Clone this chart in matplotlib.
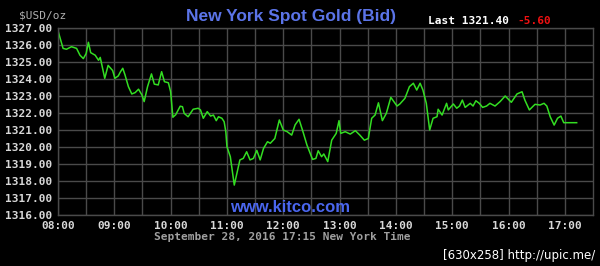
import matplotlib
matplotlib.use("Agg")
import matplotlib.pyplot as plt

# время (часы, Нью-Йорк) и цена золота, USD/oz
hours = [
    8.00, 8.09, 8.15, 8.24, 8.33, 8.39, 8.45, 8.50, 8.54, 8.58, 8.66, 8.72, 8.75,
    8.83, 8.89, 8.97, 9.01, 9.07, 9.11, 9.15, 9.19, 9.25, 9.31, 9.37, 9.43, 9.49,
    9.53, 9.59, 9.66, 9.71, 9.78, 9.84, 9.89, 9.96, 10.00, 10.04, 10.09, 10.17,
    10.21, 10.24, 10.31, 10.40, 10.49, 10.53, 10.58, 10.65, 10.71, 10.76, 10.81,
    10.85, 10.91, 10.95, 10.98, 11.00, 11.06, 11.13, 11.17, 11.23, 11.29, 11.35,
    11.41, 11.47, 11.53, 11.59, 11.65, 11.72, 11.77, 11.85, 11.93, 12.00, 12.07,
    12.15, 12.21, 12.28, 12.35, 12.42, 12.48, 12.52, 12.58, 12.62, 12.68, 12.72,
    12.79, 12.86, 12.94, 12.99, 13.02, 13.10, 13.19, 13.28, 13.36, 13.44, 13.51,
    13.57, 13.63, 13.69, 13.76, 13.83, 13.91, 14.02, 14.07, 14.16, 14.24, 14.31,
    14.37, 14.43, 14.48, 14.54, 14.60, 14.66, 14.73, 14.75, 14.82, 14.90, 14.93,
    15.02, 15.08, 15.13, 15.18, 15.23, 15.32, 15.37, 15.42, 15.48, 15.54, 15.61,
    15.67, 15.76, 15.85, 15.94, 16.05, 16.15, 16.24, 16.29, 16.37, 16.47, 16.56,
    16.63, 16.68, 16.74, 16.81, 16.87, 16.93, 16.98, 17.21,
]
prices = [
    1326.84, 1325.80, 1325.75, 1325.90, 1325.80, 1325.40, 1325.20, 1325.50,
    1326.16, 1325.55, 1325.40, 1325.10, 1325.27, 1324.04, 1324.80, 1324.50,
    1324.04, 1324.18, 1324.43, 1324.63, 1324.24, 1323.55, 1323.12, 1323.20,
    1323.40, 1323.06, 1322.67, 1323.55, 1324.30, 1323.70, 1323.65, 1324.43,
    1323.84, 1323.78, 1323.25, 1321.75, 1321.90, 1322.40, 1322.37, 1321.98,
    1321.78, 1322.22, 1322.28, 1322.18, 1321.69, 1322.08, 1321.82, 1321.88,
    1321.55, 1321.78, 1321.69, 1321.49, 1320.90, 1320.02, 1319.43, 1317.76,
    1318.35, 1319.24, 1319.33, 1319.72, 1319.24, 1319.33, 1319.80, 1319.24,
    1319.92, 1320.31, 1320.22, 1320.50, 1321.59, 1321.00, 1320.90, 1320.70,
    1321.30, 1321.63, 1320.90, 1320.12, 1319.60, 1319.27, 1319.33, 1319.78,
    1319.43, 1319.59, 1319.14, 1320.40, 1320.80, 1321.55, 1320.80, 1320.90,
    1320.76, 1320.96, 1320.70, 1320.40, 1320.50, 1321.69, 1321.88, 1322.60,
    1321.55, 1321.98, 1322.92, 1322.41, 1322.53, 1322.86, 1323.55, 1323.75,
    1323.35, 1323.75, 1323.35, 1322.57, 1321.00, 1321.69, 1321.78, 1322.22,
    1321.88, 1322.57, 1322.18, 1322.53, 1322.28, 1322.41, 1322.76, 1322.33,
    1322.57, 1322.41, 1322.72, 1322.57, 1322.33, 1322.41, 1322.57, 1322.41,
    1322.67, 1323.00, 1322.63, 1323.12, 1323.25, 1322.76, 1322.18, 1322.51,
    1322.47, 1322.57, 1322.41, 1321.78, 1321.29, 1321.69, 1321.82, 1321.43,
    1321.43,
]

x_ticks = list(range(8, 18))
x_labels = ["%02d:00" % h for h in x_ticks]
y_ticks = list(range(1316, 1328))
y_labels = ["%d.00" % v for v in y_ticks]

mono = "DejaVu Sans Mono"

fig = plt.figure(figsize=(6.0, 2.66), dpi=100, facecolor="black")
ax = fig.add_axes([58 / 600, 51 / 266, 535 / 600, 187 / 266], facecolor="black")

ax.plot(hours, prices, color="#33dd22", linewidth=1.1)

ax.set_xlim(8, 17.5)
ax.set_ylim(1316, 1327)
ax.set_xticks(x_ticks)
ax.set_xticklabels(x_labels)
ax.set_xticks([h + 0.5 for h in x_ticks[:-1]], minor=True)
ax.set_yticks(y_ticks)
ax.set_yticklabels(y_labels)

ax.grid(True, which="both", color="#4a4a4a", linewidth=1)
ax.tick_params(which="both", length=0)
ax.tick_params(axis="both", labelsize=8, labelcolor="#d8d8d8", pad=4)
for lab in ax.get_xticklabels() + ax.get_yticklabels():
    lab.set_family(mono)
    lab.set_fontweight("bold")
for sp in ax.spines.values():
    sp.set_color("#4a4a4a")
    sp.set_linewidth(1)

# подписи
fig.text(19 / 600, 1 - 15 / 266, "$USD/oz", color="#b0b0b0", fontsize=8,
         family=mono, va="center")
fig.text(291 / 600, 1 - 16 / 266, "New York Spot Gold (Bid)", color="#5b74e8",
         fontsize=12.5, fontweight="bold", family="Liberation Sans",
         ha="center", va="center")
fig.text(428 / 600, 1 - 21 / 266, "Last 1321.40", color="white", fontsize=8,
         family=mono, fontweight="bold", va="center")
fig.text(517 / 600, 1 - 21 / 266, "-5.60", color="#ee1111", fontsize=8,
         family=mono, fontweight="bold", va="center")
fig.text(290 / 600, 1 - 207 / 266, "www.kitco.com", color="#4a66ee",
         fontsize=12, fontweight="bold", family="Liberation Sans",
         ha="center", va="center")
fig.text(282 / 600, 1 - 237 / 266, "September 28, 2016 17:15 New York Time",
         color="#a0a0a0", fontsize=8, family=mono, fontweight="bold",
         ha="center", va="center")
fig.text(595 / 600, 1 - 256 / 266, "[630x258] http://upic.me/", color="white",
         fontsize=8.5, family="DejaVu Sans", ha="right", va="center")

fig.savefig("out.png", dpi=100, facecolor="black")
